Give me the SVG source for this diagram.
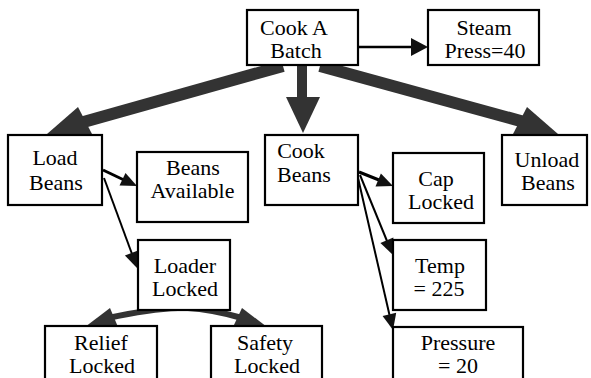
<svg xmlns="http://www.w3.org/2000/svg" width="591" height="378" viewBox="0 0 591 378">
<rect width="591" height="378" fill="#fff"/>
<g id="connectors" fill="none">
  <line stroke="#333" x1="283" y1="66" x2="80" y2="123" stroke-width="12"/>
  <polygon fill="#333" points="47,134 78,107 92,134"/>
  <line stroke="#333" x1="302" y1="64" x2="302" y2="99" stroke-width="10"/>
  <polygon fill="#333" points="286,97 320,97 303,133"/>
  <line stroke="#333" x1="320" y1="66" x2="535" y2="125" stroke-width="12"/>
  <polygon fill="#333" points="558,134 527,107 513,134"/>
  <line stroke="#000" x1="358" y1="47" x2="414" y2="47" stroke-width="2.5"/>
  <polygon fill="#111" points="411,38 428,47 411,56"/>
  <line stroke="#000" x1="103" y1="170" x2="124" y2="180" stroke-width="3"/>
  <polygon fill="#111" points="137,186 119.5,185.5 125.5,172.9"/>
  <line stroke="#000" stroke-width="2" x1="104" y1="178" x2="132" y2="254"/>
  <polygon fill="#111" points="137,268 124.9,255.4 138.1,250.6"/>
  <line stroke="#000" x1="359" y1="172" x2="379" y2="180" stroke-width="3"/>
  <polygon fill="#111" points="393,186 375.5,186.4 380.9,173.4"/>
  <line stroke="#000" stroke-width="2" x1="360" y1="175" x2="387" y2="241"/>
  <polygon fill="#111" points="393,255 380.4,242.9 393.4,237.5"/>
  <line stroke="#000" stroke-width="2" x1="358" y1="178" x2="389.5" y2="315"/>
  <polygon fill="#111" points="393,330 382.6,316 396.2,312.8"/>
  <path stroke="#333" d="M178,308 Q150,309 108,318" stroke-width="6"/>
  <polygon fill="#333" points="85,327 110,308 118,327"/>
  <path stroke="#333" d="M188,308 Q210,309 242,318" stroke-width="6"/>
  <polygon fill="#333" points="267,327 242,308 233,327"/>
</g>
<g id="nodes">
<g id="cook-a-batch"><rect fill="#fff" stroke="#000" stroke-width="2.2" x="247" y="10" width="111" height="55"/><text font-family="Liberation Serif" font-size="22" text-anchor="middle" x="294" y="34.5">Cook A</text><text font-family="Liberation Serif" font-size="22" text-anchor="middle" x="296" y="58">Batch</text></g>
<g id="steam-press"><rect fill="#fff" stroke="#000" stroke-width="2.2" x="428" y="10" width="111" height="55"/><text font-family="Liberation Serif" font-size="22" text-anchor="middle" x="484" y="34.5">Steam</text><text font-family="Liberation Serif" font-size="22" text-anchor="middle" x="485" y="58">Press=40</text></g>
<g id="load-beans"><rect fill="#fff" stroke="#000" stroke-width="2.2" x="8" y="135" width="94" height="70"/><text font-family="Liberation Serif" font-size="22" text-anchor="middle" x="55" y="165">Load</text><text font-family="Liberation Serif" font-size="22" text-anchor="middle" x="56" y="190">Beans</text></g>
<g id="beans-available"><rect fill="#fff" stroke="#000" stroke-width="2.2" x="137" y="152" width="111" height="70"/><text font-family="Liberation Serif" font-size="22" text-anchor="middle" x="193" y="174.5">Beans</text><text font-family="Liberation Serif" font-size="22" text-anchor="middle" x="192.5" y="198">Available</text></g>
<g id="cook-beans"><rect fill="#fff" stroke="#000" stroke-width="2.2" x="265" y="135" width="93" height="70"/><text font-family="Liberation Serif" font-size="22" text-anchor="middle" x="301" y="157.5">Cook</text><text font-family="Liberation Serif" font-size="22" text-anchor="middle" x="304" y="182">Beans</text></g>
<g id="cap-locked"><rect fill="#fff" stroke="#000" stroke-width="2.2" x="393" y="153" width="91" height="70"/><text font-family="Liberation Serif" font-size="22" text-anchor="middle" x="436" y="185.5">Cap</text><text font-family="Liberation Serif" font-size="22" text-anchor="middle" x="441" y="209">Locked</text></g>
<g id="unload-beans"><rect fill="#fff" stroke="#000" stroke-width="2.2" x="502" y="135" width="85" height="70"/><text font-family="Liberation Serif" font-size="22" text-anchor="middle" x="547" y="166.5">Unload</text><text font-family="Liberation Serif" font-size="22" text-anchor="middle" x="548" y="190">Beans</text></g>
<g id="loader-locked"><rect fill="#fff" stroke="#000" stroke-width="2.2" x="138" y="240" width="92" height="70"/><text font-family="Liberation Serif" font-size="22" text-anchor="middle" x="185" y="272.5">Loader</text><text font-family="Liberation Serif" font-size="22" text-anchor="middle" x="185" y="296">Locked</text></g>
<g id="temp"><rect fill="#fff" stroke="#000" stroke-width="2.2" x="393" y="240" width="93" height="70"/><text font-family="Liberation Serif" font-size="22" text-anchor="middle" x="440" y="272.5">Temp</text><text font-family="Liberation Serif" font-size="22" text-anchor="middle" x="439" y="296">= 225</text></g>
<g id="relief-locked"><rect fill="#fff" stroke="#000" stroke-width="2.2" x="45" y="326" width="112" height="70"/><text font-family="Liberation Serif" font-size="22" text-anchor="middle" x="101" y="349.5">Relief</text><text font-family="Liberation Serif" font-size="22" text-anchor="middle" x="102" y="373">Locked</text></g>
<g id="safety-locked"><rect fill="#fff" stroke="#000" stroke-width="2.2" x="211" y="326" width="111" height="70"/><text font-family="Liberation Serif" font-size="22" text-anchor="middle" x="265" y="349.5">Safety</text><text font-family="Liberation Serif" font-size="22" text-anchor="middle" x="267" y="373">Locked</text></g>
<g id="pressure"><rect fill="#fff" stroke="#000" stroke-width="2.2" x="393" y="327" width="130" height="70"/><text font-family="Liberation Serif" font-size="22" text-anchor="middle" x="458" y="349.5">Pressure</text><text font-family="Liberation Serif" font-size="22" text-anchor="middle" x="458" y="373">= 20</text></g>
</g>
</svg>
